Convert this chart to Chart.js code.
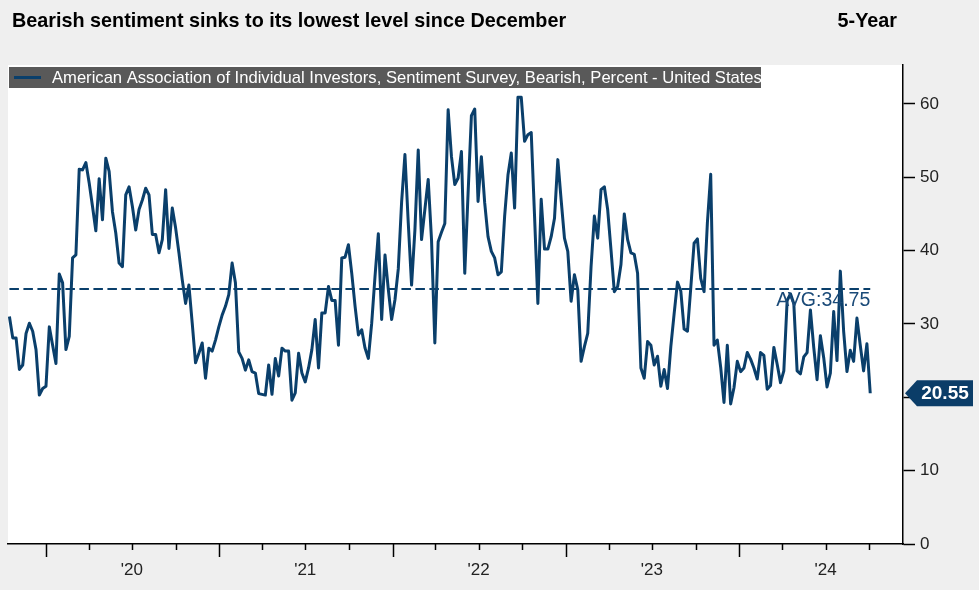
<!DOCTYPE html>
<html><head><meta charset="utf-8">
<script src="https://cdn.jsdelivr.net/npm/chart.js@4.4.1/dist/chart.umd.min.js"></script>
<style>
html,body{margin:0;padding:0;background:#efefef;}
#wrap{position:relative;width:979px;height:590px;}
canvas{display:block;}
</style>
</head><body>
<div id="wrap"><canvas id="c" width="979" height="590"></canvas></div>
<script>
// ---------- data ----------
const TITLE = 'Bearish sentiment sinks to its lowest level since December';
const PERIOD = '5-Year';
const SERIES_NAME = 'American Association of Individual Investors, Sentiment Survey, Bearish, Percent - United States';
const FIRST_WEEK = [2019, 9, 17];   // first weekly survey shown (UTC y, m0, d)
const AVERAGE = 34.75;
const AVG_LABEL = 'AVG:34.75';
const LAST_LABEL = '20.55';
const yTicks = [0, 10, 20, 30, 40, 50, 60];
const yearTicks = [2020, 2021, 2022, 2023, 2024];
const yearLabels = ["'20", "'21", "'22", "'23", "'24"];
const bearish = [
  31.0, 28.1, 28.1, 23.8, 24.4, 28.7, 30.1, 29.0, 26.5, 20.3, 21.2, 21.5, 29.6, 27.1, 24.6, 36.8, 35.6, 26.5, 28.3, 39.0,
  39.4, 51.1, 51.0, 52.0, 49.2, 46.0, 42.7, 49.8, 44.2, 52.6, 50.8, 45.3, 42.4, 38.3,
  37.8, 47.6, 48.7, 46.0, 42.8, 45.6, 46.9, 48.5, 47.6, 42.2, 42.2, 39.7, 41.5, 48.3, 40.3, 45.8, 43.1, 39.7, 36.0, 32.8,
  35.3, 30.1, 24.7, 26.0, 27.4, 22.6, 26.7, 26.3, 27.8, 29.6, 31.2, 32.4, 34.0,
  38.3, 35.6, 26.2, 25.3, 23.7, 25.1, 23.5, 23.3, 20.5, 20.4, 20.3, 24.4, 20.4, 25.3, 22.9, 26.7, 26.3, 26.3, 19.6, 20.6,
  26.0, 23.3, 22.1, 24.0, 26.5, 30.6, 24.0, 31.5, 31.5, 35.1, 33.2, 33.2, 27.1,
  39.0, 39.1, 40.8, 36.9, 32.4, 28.5, 29.2, 26.7, 25.3, 30.1, 36.5, 42.3, 30.6, 39.4, 34.7, 30.6, 33.3, 37.5, 46.6, 53.1,
  43.8, 35.3, 42.8, 53.7, 41.5, 45.6, 49.7, 41.5, 27.4, 41.2, 42.5, 43.7, 59.2,
  52.8, 49.0, 49.9, 53.5, 36.9, 47.8, 58.4, 59.3, 46.7, 52.8, 46.5, 41.9, 39.9, 39.0, 36.7, 37.1, 44.7, 50.3, 53.3, 45.8,
  60.9, 60.9, 54.9, 55.8, 56.1, 44.7, 32.8, 47.0, 40.2, 40.2, 41.9, 44.4, 52.4,
  46.9, 41.7, 39.9, 33.1, 36.7, 34.7, 24.9, 26.9, 28.7, 37.8, 44.7, 41.7, 48.3, 48.7, 45.6, 40.1, 34.4, 35.1, 38.1, 45.0,
  41.5, 39.7, 39.5, 36.9, 24.0, 22.6, 27.6, 27.1, 24.4, 25.6, 21.5, 23.8, 21.2, 26.9,
  31.4, 35.7, 34.5, 29.3, 29.0, 34.9, 41.0, 41.6, 36.2, 34.4, 43.8, 50.4, 27.1, 27.8, 24.1, 19.3, 27.1, 19.1, 21.3, 24.9,
  23.5, 24.0, 26.1, 25.2, 24.0, 22.5, 26.1, 25.7, 21.1, 21.6, 26.8,
  24.5, 22.0, 23.6, 33.2, 34.1, 32.8, 23.6, 23.2, 25.5, 26.1, 31.9, 26.8, 22.4, 28.4, 25.4, 21.4, 23.3, 31.7, 25.0, 37.2,
  29.0, 23.5, 26.4, 24.9, 30.8, 27.1, 23.6, 27.3, 20.55
];

// ---------- derived ----------
const DAY = 86400000;
const t0 = Date.UTC(FIRST_WEEK[0], FIRST_WEEK[1], FIRST_WEEK[2]);
const weekDates = bearish.map((_, i) => t0 + i * 7 * DAY);
const points = bearish.map((v, i) => ({ x: weekDates[i], y: v }));
const avgPoints = [{ x: weekDates[0], y: AVERAGE }, { x: weekDates[weekDates.length - 1], y: AVERAGE }];
const X_MIN = Date.UTC(2019, 9, 14);
const X_MAX = Date.UTC(2024, 11, 11);

const LINE = '#0a3f6b';
const FONT = '"Liberation Sans", Arial, sans-serif';

const deco = {
  id: 'deco',
  beforeDraw(chart) {
    const { ctx, chartArea: a } = chart;
    ctx.save();
    ctx.fillStyle = '#ffffff';
    ctx.fillRect(a.left, a.top, a.right - a.left, a.bottom - a.top);
    ctx.restore();
  },
  afterDraw(chart) {
    const { ctx, chartArea: a, scales } = chart;
    const xs = scales.x, ys = scales.y;
    ctx.save();
    // quarter ticks on x axis
    ctx.strokeStyle = '#000';
    ctx.lineWidth = 1.5;
    for (let y = 2019; y <= 2024; y++) {
      for (const m of [0, 3, 6, 9]) {
        const t = Date.UTC(y, m, 1);
        if (t < X_MIN || t > X_MAX) continue;
        const px = Math.round(xs.getPixelForValue(t)) + 0.5;
        const len = m === 0 ? 13 : 6;
        ctx.beginPath();
        ctx.moveTo(px, a.bottom);
        ctx.lineTo(px, a.bottom + len);
        ctx.stroke();
      }
    }
    // title
    ctx.fillStyle = '#000';
    ctx.font = 'bold 19.8px ' + FONT;
    ctx.textBaseline = 'alphabetic';
    ctx.textAlign = 'left';
    ctx.fillText(TITLE, 12, 27);
    ctx.textAlign = 'right';
    ctx.fillText(PERIOD, 897, 27);
    // legend box
    ctx.fillStyle = '#595959';
    ctx.fillRect(9, 67, 752, 21);
    ctx.strokeStyle = LINE;
    ctx.lineWidth = 3;
    ctx.beginPath();
    ctx.moveTo(14, 77.5);
    ctx.lineTo(41, 77.5);
    ctx.stroke();
    ctx.save();
    ctx.beginPath();
    ctx.rect(9, 67, 752, 21);
    ctx.clip();
    ctx.fillStyle = '#ffffff';
    ctx.font = '16.6px ' + FONT;
    ctx.textAlign = 'left';
    ctx.textBaseline = 'middle';
    ctx.fillText(SERIES_NAME, 52, 78);
    ctx.restore();
    // AVG label
    const lastX = xs.getPixelForValue(weekDates[weekDates.length - 1]);
    const avgY = ys.getPixelForValue(AVERAGE);
    ctx.fillStyle = '#1a4a78';
    ctx.font = '19.5px ' + FONT;
    ctx.textAlign = 'right';
    ctx.textBaseline = 'alphabetic';
    ctx.fillText(AVG_LABEL, lastX, avgY + 17);
    // last value tag
    const ly = ys.getPixelForValue(bearish[bearish.length - 1]);
    const x0 = a.right + 2;
    ctx.fillStyle = '#0b3d68';
    ctx.beginPath();
    ctx.moveTo(x0, ly);
    ctx.lineTo(x0 + 12, ly - 13);
    ctx.lineTo(973, ly - 13);
    ctx.lineTo(973, ly + 13);
    ctx.lineTo(x0 + 12, ly + 13);
    ctx.closePath();
    ctx.fill();
    ctx.fillStyle = '#ffffff';
    ctx.font = 'bold 19px ' + FONT;
    ctx.textAlign = 'center';
    ctx.textBaseline = 'middle';
    ctx.fillText(LAST_LABEL, 945, ly + 1);
    ctx.restore();
  }
};

new Chart(document.getElementById('c'), {
  type: 'line',
  data: {
    datasets: [
      { label: SERIES_NAME, data: points, borderColor: LINE, borderWidth: 3, pointRadius: 0, tension: 0, fill: false, borderJoinStyle: 'round' },
      { label: 'AVG', data: avgPoints, borderColor: LINE, borderWidth: 2, borderDash: [9.5, 4.5], pointRadius: 0, fill: false }
    ]
  },
  options: {
    responsive: false,
    animation: false,
    events: [],
    layout: { padding: { top: 65, left: 8, right: 0, bottom: 0 } },
    plugins: { legend: { display: false }, tooltip: { enabled: false }, title: { display: false } },
    scales: {
      x: {
        type: 'linear', min: X_MIN, max: X_MAX,
        grid: { display: false },
        border: { display: true, color: '#000', width: 1.5 },
        ticks: {
          autoSkip: false, maxRotation: 0, padding: 8, color: '#222',
          font: { family: FONT, size: 17 },
          callback: (v) => { const i = yearTicks.indexOf(new Date(v).getUTCFullYear()); return i >= 0 ? yearLabels[i] : ''; }
        },
        afterBuildTicks: (axis) => { axis.ticks = yearTicks.map(y => ({ value: Date.UTC(y, 6, 1) })); },
        afterFit: (axis) => { axis.height = 46; }
      },
      y: {
        position: 'right', min: 0, max: 65.3,
        grid: { drawOnChartArea: false, drawTicks: true, tickLength: 12, tickColor: '#000', tickWidth: 1.5 },
        border: { display: true, color: '#000', width: 1.5 },
        ticks: { color: '#222', padding: 5, font: { family: FONT, size: 17 } },
        afterBuildTicks: (axis) => { axis.ticks = yTicks.map(v => ({ value: v })); },
        afterFit: (axis) => { axis.width = 76; }
      }
    }
  },
  plugins: [deco]
});
</script>
</body></html>
